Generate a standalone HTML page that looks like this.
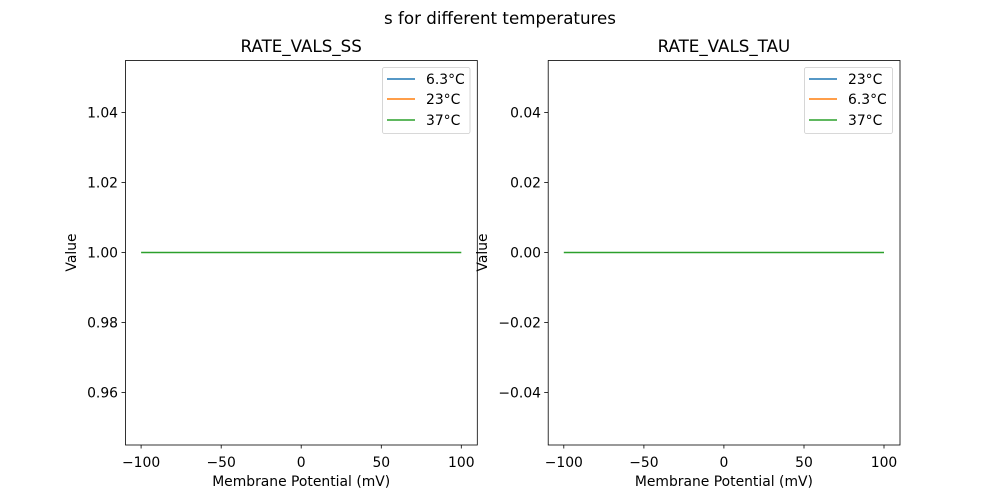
<!DOCTYPE html>
<html><head><meta charset="utf-8"><style>
body{margin:0;background:#fff}
svg{display:block;font-family:"DejaVu Sans","Liberation Sans",sans-serif}
</style></head><body>
<svg width="1000" height="500" xmlns="http://www.w3.org/2000/svg">
<rect width="1000" height="500" fill="#fff"/>
<text x="500" y="24" font-size="16.7" text-anchor="middle">s for different temperatures</text>

<!-- Left axes -->
<g>
<text x="301.2" y="52" font-size="16.7" text-anchor="middle">RATE_VALS_SS</text>
<line x1="141.1" y1="252.5" x2="461.3" y2="252.5" stroke="#2ca02c" stroke-width="1.5"/>
<rect x="125.5" y="60.5" width="351.8" height="384.5" fill="none" stroke="#000" stroke-width="0.8"/>
<g stroke="#000" stroke-width="0.8">
<line x1="141.1" y1="445" x2="141.1" y2="448.5"/><line x1="221.2" y1="445" x2="221.2" y2="448.5"/><line x1="301.2" y1="445" x2="301.2" y2="448.5"/><line x1="381.3" y1="445" x2="381.3" y2="448.5"/><line x1="461.3" y1="445" x2="461.3" y2="448.5"/>
<line x1="121.5" y1="112.5" x2="125.5" y2="112.5"/><line x1="121.5" y1="182.5" x2="125.5" y2="182.5"/><line x1="121.5" y1="252.5" x2="125.5" y2="252.5"/><line x1="121.5" y1="322.5" x2="125.5" y2="322.5"/><line x1="121.5" y1="392.5" x2="125.5" y2="392.5"/>
</g>
<g font-size="13.9" text-anchor="middle">
<text x="141.1" y="467">−100</text><text x="221.2" y="467">−50</text><text x="301.2" y="467">0</text><text x="381.3" y="467">50</text><text x="461.3" y="467">100</text>
</g>
<g font-size="13.9" text-anchor="end">
<text x="118" y="117.5">1.04</text><text x="118" y="187.5">1.02</text><text x="118" y="257.5">1.00</text><text x="118" y="327.5">0.98</text><text x="118" y="397.5">0.96</text>
</g>
<text x="301.2" y="486" font-size="13.9" text-anchor="middle">Membrane Potential (mV)</text>
<text transform="translate(76,252.5) rotate(-90)" font-size="13.9" text-anchor="middle">Value</text>
<rect x="382.5" y="67.5" width="87.5" height="66" rx="2" fill="#fff" stroke="#ccc" stroke-width="0.8"/>
<line x1="387" y1="79" x2="415" y2="79" stroke="#1f77b4" stroke-width="1.5"/>
<line x1="387" y1="99" x2="415" y2="99" stroke="#ff7f0e" stroke-width="1.5"/>
<line x1="387" y1="120" x2="415" y2="120" stroke="#2ca02c" stroke-width="1.5"/>
<g font-size="13.9"><text x="426" y="84">6.3°C</text><text x="426" y="104">23°C</text><text x="426" y="125">37°C</text></g>
</g>

<!-- Right axes -->
<g>
<text x="723.9" y="52" font-size="16.7" text-anchor="middle">RATE_VALS_TAU</text>
<line x1="563.8" y1="252.5" x2="884" y2="252.5" stroke="#2ca02c" stroke-width="1.5"/>
<rect x="548.2" y="60.5" width="351.8" height="384.5" fill="none" stroke="#000" stroke-width="0.8"/>
<g stroke="#000" stroke-width="0.8">
<line x1="563.8" y1="445" x2="563.8" y2="448.5"/><line x1="643.9" y1="445" x2="643.9" y2="448.5"/><line x1="723.9" y1="445" x2="723.9" y2="448.5"/><line x1="804" y1="445" x2="804" y2="448.5"/><line x1="884" y1="445" x2="884" y2="448.5"/>
<line x1="544.2" y1="112.5" x2="548.2" y2="112.5"/><line x1="544.2" y1="182.5" x2="548.2" y2="182.5"/><line x1="544.2" y1="252.5" x2="548.2" y2="252.5"/><line x1="544.2" y1="322.5" x2="548.2" y2="322.5"/><line x1="544.2" y1="392.5" x2="548.2" y2="392.5"/>
</g>
<g font-size="13.9" text-anchor="middle">
<text x="563.8" y="467">−100</text><text x="643.9" y="467">−50</text><text x="723.9" y="467">0</text><text x="804" y="467">50</text><text x="884" y="467">100</text>
</g>
<g font-size="13.9" text-anchor="end">
<text x="541" y="117.5">0.04</text><text x="541" y="187.5">0.02</text><text x="541" y="257.5">0.00</text><text x="541" y="327.5">−0.02</text><text x="541" y="397.5">−0.04</text>
</g>
<text x="723.9" y="486" font-size="13.9" text-anchor="middle">Membrane Potential (mV)</text>
<text transform="translate(487,252.5) rotate(-90)" font-size="13.9" text-anchor="middle">Value</text>
<rect x="804.5" y="67.5" width="88" height="66" rx="2" fill="#fff" stroke="#ccc" stroke-width="0.8"/>
<line x1="809" y1="79" x2="837" y2="79" stroke="#1f77b4" stroke-width="1.5"/>
<line x1="809" y1="99" x2="837" y2="99" stroke="#ff7f0e" stroke-width="1.5"/>
<line x1="809" y1="120" x2="837" y2="120" stroke="#2ca02c" stroke-width="1.5"/>
<g font-size="13.9"><text x="848" y="84">23°C</text><text x="848" y="104">6.3°C</text><text x="848" y="125">37°C</text></g>
</g>
</svg>
</body></html>
